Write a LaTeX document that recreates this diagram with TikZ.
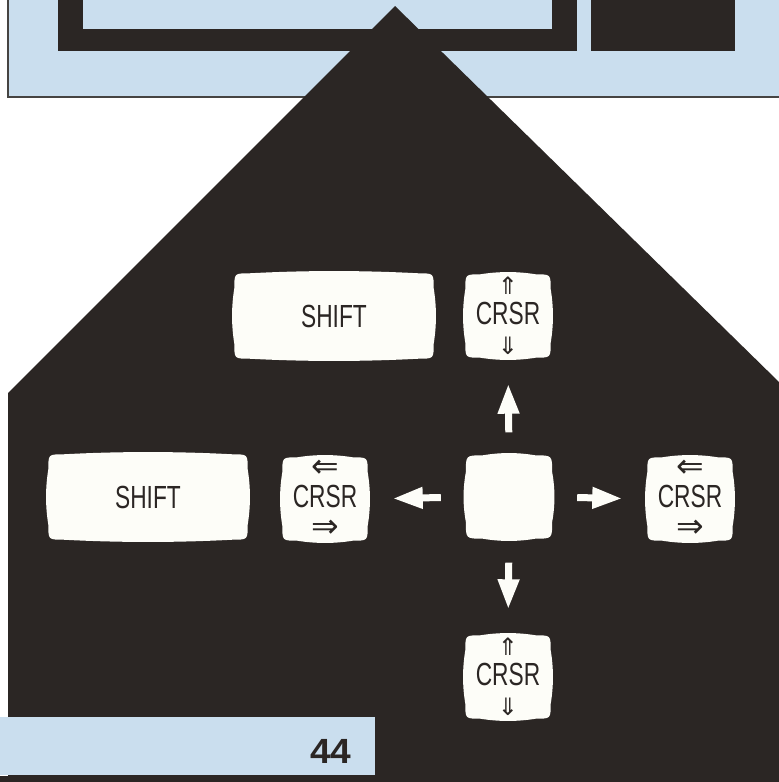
\documentclass[tikz,border=0pt]{standalone}
\usepackage{fontspec}
\usetikzlibrary{arrows.meta,calc}
\newfontfamily\keyfont{Liberation Sans}[FakeStretch=0.71]
\newfontfamily\pagefont{Liberation Sans}[FakeStretch=1.06]
\newfontfamily\symfont{DejaVu Sans}
\definecolor{inkdark}{RGB}{43,38,36}
\definecolor{panelblue}{RGB}{202,222,238}
\definecolor{keywhite}{RGB}{253,253,248}
\definecolor{edgegray}{RGB}{70,68,66}
\pgfdeclarelayer{bg}
\pgfdeclarelayer{keys}
\pgfsetlayers{bg,keys,main}
\newcommand\tvkey[3]{% node name, corner radius, bulge
  \path[fill=keywhite] let \p1=(#1.north west), \p2=(#1.south east),
     \n1={(\x2-\x1-2*#2pt)/3}, \n2={(\y1-\y2-2*#2pt)/3} in
   (\x1+#2pt,\y1)
   .. controls (\x1+#2pt+\n1,\y1+#3pt) and (\x2-#2pt-\n1,\y1+#3pt) .. (\x2-#2pt,\y1)
   .. controls (\x2,\y1) .. (\x2,\y1-#2pt)
   .. controls (\x2+#3pt,\y1-#2pt-\n2) and (\x2+#3pt,\y2+#2pt+\n2) .. (\x2,\y2+#2pt)
   .. controls (\x2,\y2) .. (\x2-#2pt,\y2)
   .. controls (\x2-#2pt-\n1,\y2-#3pt) and (\x1+#2pt+\n1,\y2-#3pt) .. (\x1+#2pt,\y2)
   .. controls (\x1,\y2) .. (\x1,\y2+#2pt)
   .. controls (\x1-#3pt,\y2+#2pt+\n2) and (\x1-#3pt,\y1-#2pt-\n2) .. (\x1,\y1-#2pt)
   .. controls (\x1,\y1) .. (\x1+#2pt,\y1) -- cycle;}
\tikzset{
  keybox/.style={rectangle, inner sep=0pt, text=inkdark, align=center,
     font=\keyfont\fontsize{32}{30}\selectfont},
  shiftkey/.style={keybox, minimum width=199pt, minimum height=85pt},
  crsrkey/.style={keybox, minimum width=85pt, minimum height=83pt},
  movearrow/.style={draw=keywhite, line width=7pt,
     -{Triangle[width=20pt,length=30pt]}}
}
\newcommand\symup{{\symfont\fontsize{24}{30}\selectfont ⇑}}
\newcommand\symdown{{\symfont\fontsize{24}{30}\selectfont ⇓}}
\newcommand\symleft{{\symfont\fontsize{33}{30}\selectfont ⇐}}
\newcommand\symright{{\symfont\fontsize{33}{30}\selectfont ⇒}}
\begin{document}
\begin{tikzpicture}[x=1pt,y=-1pt]
\useasboundingbox (0,0) rectangle (779,782);
\begin{pgfonlayer}{bg}
  \fill[white] (0,0) rectangle (779,782);
  % top panel
  \fill[panelblue] (8,0) rectangle (779,97);
  \draw[edgegray, line width=1.2pt] (8,0) -- (8,97) -- (779,97);
  % monitor
  \fill[inkdark] (58,0) rectangle (577,51);
  \fill[panelblue] (83,0) rectangle (552,29);
  \fill[inkdark] (591,0) rectangle (735,51);
  % big dark shape
  \fill[inkdark] (395,6) -- (779,382) -- (779,782) -- (0,782) -- (0,776)
     -- (8,776) -- (8,393) -- cycle;
  % page bar
  \fill[panelblue] (0,717) rectangle (375,775);
\end{pgfonlayer}
\node[font=\pagefont\bfseries\fontsize{35}{35}\selectfont, text=inkdark, anchor=east]
   (page) at (355,751) {44};
% keys
\node[shiftkey] (shiftA) at (334,316) {SHIFT};
\node[crsrkey]  (up)     at (508,316) {\symup\\CRSR\\\symdown};
\node[shiftkey] (shiftB) at (148,497) {SHIFT};
\node[crsrkey]  (left)   at (325,499) {\symleft\\CRSR\\\symright};
\node[crsrkey, minimum width=86pt] (mid) at (509,497) {};
\node[crsrkey]  (right)  at (690,499) {\symleft\\CRSR\\\symright};
\node[crsrkey]  (down)   at (508,677) {\symup\\CRSR\\\symdown};
\begin{pgfonlayer}{keys}
  \tvkey{shiftA}{15}{3}
  \tvkey{up}{15}{3}
  \tvkey{shiftB}{15}{3}
  \tvkey{left}{15}{3}
  \tvkey{mid}{17}{3}
  \tvkey{right}{15}{3}
  \tvkey{down}{15}{3}
\end{pgfonlayer}
% movement arrows
\draw[movearrow, shorten <=23pt, shorten >=26pt] (mid.north) -- (up.south);
\draw[movearrow, shorten <=24pt, shorten >=26pt] (mid.south) -- (down.north);
\draw[movearrow, shorten <=25pt, shorten >=25pt] (mid.west) -- (left.east);
\draw[movearrow, shorten <=25pt, shorten >=25pt] (mid.east) -- (right.west);
\end{tikzpicture}
\end{document}
